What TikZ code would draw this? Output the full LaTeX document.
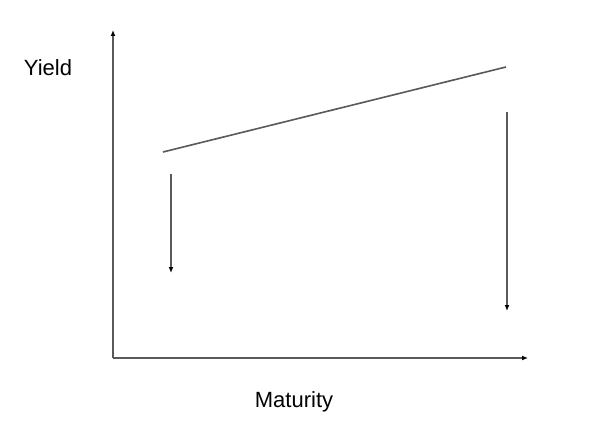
\documentclass[tikz,border=0pt]{standalone}
\usepackage{fontspec}
\setmainfont{Liberation Sans}
\usetikzlibrary{arrows.meta}
\tikzset{
  axisline/.style={draw=black!65, line width=1.6pt, -{Latex[length=6pt,width=5pt,black]}},
  dropline/.style={draw=black!65, line width=1.6pt, -{Latex[length=6pt,width=5pt,black]}},
  curveline/.style={draw=black!65, line width=1.6pt},
  axislabel/.style={font=\fontsize{22}{26}\selectfont, anchor=base, inner sep=0pt}
}
\begin{document}
\begin{tikzpicture}[x=1pt,y=-1pt]
\useasboundingbox[fill=white] (0,0) rectangle (600,441);
% axes
\coordinate (origin) at (113,358);
\coordinate (ytop) at (113,30);
\coordinate (xend) at (528,358);
\draw[axisline] (origin) -- (ytop);
\draw[axisline] (origin) -- (xend);
\node[axislabel] (yieldlabel) at (48,76) {Yield};
\node[axislabel] (maturitylabel) at (294,407) {Maturity};
% yield curve
\coordinate (shortend) at (163,152);
\coordinate (longend) at (506,67);
\draw[curveline] (shortend) -- (longend);
% shifts
\coordinate (shortfrom) at (171,174);
\coordinate (shortto) at (171,273);
\coordinate (longfrom) at (507,112);
\coordinate (longto) at (507,311);
\draw[dropline] (shortfrom) -- (shortto);
\draw[dropline] (longfrom) -- (longto);
\end{tikzpicture}
\end{document}
